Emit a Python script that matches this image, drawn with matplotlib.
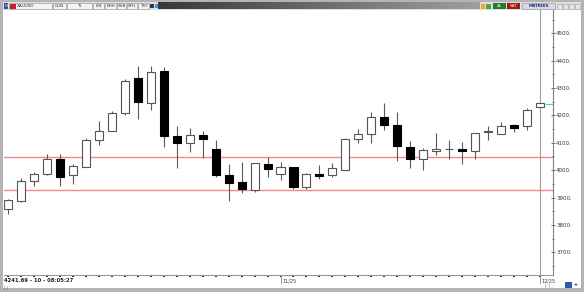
import numpy as np
import matplotlib.pyplot as plt
from matplotlib.patches import Rectangle

# daily candles
opens = [3858, 3887, 3960, 3985, 4042, 3981, 4013, 4110, 4144, 4210,
         4336, 4244, 4362, 4125, 4098, 4130, 4076, 3982, 3957, 3928,
         4023, 3986, 4011, 3937, 3985, 3981, 4000, 4113, 4132, 4195,
         4164, 4084, 4041, 4070, 4076, 4076, 4071, 4139, 4131, 4164,
         4161, 4231]
closes = [3891, 3960, 3985, 4042, 3976, 4016, 4110, 4143, 4210, 4325,
          4249, 4358, 4125, 4098, 4127, 4113, 3981, 3952, 3930, 4027,
          4003, 4011, 3937, 3985, 3979, 4007, 4113, 4131, 4195, 4165,
          4088, 4042, 4074, 4077, 4076, 4069, 4135, 4140, 4162, 4155,
          4220, 4244]
highs = [3895, 3971, 3993, 4059, 4058, 4023, 4118, 4180, 4217, 4333,
         4381, 4381, 4376, 4161, 4155, 4144, 4110, 4021, 4030, 4027,
         4047, 4031, 4012, 3991, 4019, 4027, 4116, 4149, 4214, 4244,
         4214, 4108, 4082, 4135, 4110, 4102, 4135, 4161, 4175, 4168,
         4228, 4244]
lows = [3840, 3885, 3942, 3984, 3943, 3950, 4012, 4092, 4143, 4202,
        4187, 4220, 4086, 4007, 4067, 4046, 3974, 3888, 3916, 3919,
        3974, 3964, 3930, 3930, 3967, 3976, 3999, 4100, 4100, 4147,
        4035, 4007, 4001, 4055, 4040, 4023, 4041, 4110, 4131, 4141,
        4147, 4231]

levels = [4049, 3928]
last_price = 4241.69
price_ticks = [3700, 3800, 3900, 4000, 4100, 4200, 4300, 4400, 4500]
date_idx = [21, 41]
date_labels = ["11/25", "12/25"]
status = "4241.69 - 10 - 08:05:27"

W, H = 584, 292
fig = plt.figure(figsize=(W / 100, H / 100), dpi=100)
fig.patch.set_facecolor('#b4b4b4')

# window frame drawn in pixel coords
fr = fig.add_axes([0, 0, 1, 1])
fr.set_xlim(0, W)
fr.set_ylim(H, 0)
fr.axis('off')

def box(x0, x1, y0, y1, fc, ec='none', lw=0.5, z=1):
    fr.add_patch(Rectangle((x0, y0), x1 - x0, y1 - y0, fc=fc, ec=ec, lw=lw,
                           zorder=z))

box(3, 581, 10, 288, 'white')
box(3, 581, 2, 10, '#dedede')
g = np.linspace(0.22, 0.62, 80)
grad = np.dstack([g, g, g])
fr.imshow(grad, aspect='auto', extent=(158, 480, 9.5, 2.5), zorder=2)
fr.set_xlim(0, W)
fr.set_ylim(H, 0)

box(3.5, 8, 3, 9, '#2d4f9e', z=3)
fr.text(5.7, 6, 'H', fontsize=3, color='white', ha='center', va='center')
tool = [(9, 52, ''), (53, 66, 'GUN'), (67, 92, 'TL'), (93, 104, 'LIN'),
        (105, 116, 'KHH'), (117, 126, 'SVB'), (127, 137, 'SYH'), (138, 149, 'THF')]
for x0, x1, t in tool:
    box(x0, x1, 3, 9, '#f4f4f4', '#8c8c8c', 0.4, z=3)
    if t:
        fr.text((x0 + x1) / 2, 6.2, t, fontsize=3, color='#333333',
                ha='center', va='center')
box(10, 16, 3.5, 8.5, '#c02030', z=4)
fr.text(17, 6.2, 'XAUUSD', fontsize=3, color='#333333', va='center')
box(150, 154, 4, 8, '#303050', z=3)
box(155, 158, 4, 8, '#3a9ad8', z=3)
box(481, 485, 3.5, 8.5, '#e8b020', z=3)
box(486, 491, 3.5, 8.5, '#50a050', z=3)
box(493, 506, 3, 9, '#1f7a2a', z=3)
fr.text(499.5, 6.2, 'AL', fontsize=3, color='white', ha='center', va='center')
box(507, 520, 3, 9, '#a01818', z=3)
fr.text(513.5, 6.2, 'SAT', fontsize=3, color='white', ha='center', va='center')
box(522, 555, 3, 9, '#d8d8e4', '#9090a0', 0.4, z=3)
fr.text(538.5, 6.2, 'MATRIKS', fontsize=3, color='#202a80', ha='center',
        va='center', weight='bold')
for x0 in [557, 563, 569, 575]:
    box(x0, x0 + 5, 3.5, 8.5, '#e6e6e6', '#a0a0a0', 0.4, z=3)
box(565, 572, 282, 288, '#2a5cb0', z=3)
fr.text(576.5, 285, '◂▸', fontsize=3.5, color='#2a5cb0', ha='center', va='center')

# chart area
ax = fig.add_axes([4 / W, 1 - 275 / H, (553 - 4) / W, (275 - 10) / H])
ax.set_facecolor('white')
x = np.arange(len(opens))
o = np.array(opens, float)
c = np.array(closes, float)
up = c >= o

ax.vlines(x, lows, highs, color='#5a5a5a', lw=0.8, zorder=2)
bottom = np.minimum(o, c)
height = np.maximum(np.abs(c - o), 2.5)
ax.bar(x[up], height[up], bottom=bottom[up], width=0.62, color='white',
       edgecolor='#555555', lw=0.8, zorder=3)
ax.bar(x[~up], height[~up], bottom=bottom[~up], width=0.62, color='black',
       edgecolor='black', lw=0.8, zorder=3)

for lv in levels:
    ax.axhline(lv, color='#f08a8a', lw=1, zorder=1)
ax.axvline(41, color='#a0a0a0', lw=0.8, zorder=1)
ax.hlines(last_price, 41.4, 42.0, color='#40d8e0', lw=0.8, zorder=4)

ax.set_xlim(-0.31, 42.0)
ax.set_ylim(3617, 4585)

for s in ['left', 'top']:
    ax.spines[s].set_visible(False)
ax.spines['right'].set_color('#808080')
ax.spines['bottom'].set_color('#9a9a9a')
ax.spines['right'].set_linewidth(0.8)
ax.spines['bottom'].set_linewidth(0.8)

ax.yaxis.tick_right()
ax.set_yticks(price_ticks)
ax.set_yticklabels([f'{p}.' for p in price_ticks])
ax.set_yticks(np.arange(3650, 4600, 50), minor=True)
ax.tick_params(axis='y', which='both', direction='inout', length=2.5,
               width=0.6, color='#555555', labelsize=4, pad=1,
               labelcolor='#333333')
ax.tick_params(axis='y', which='minor', length=1.5)

ax.set_xticks(x)
ax.set_xticklabels([])
ax.tick_params(axis='x', direction='out', length=1.5, width=1.2, color='black')

tr = ax.get_xaxis_transform()
for i, lab in zip(date_idx, date_labels):
    ax.plot([i, i], [0, -0.03], color='#808080', lw=0.6, transform=tr,
            clip_on=False)
    ax.text(i + 0.12, -0.012, lab, transform=tr, fontsize=3.5, color='#333333',
            ha='left', va='top')
ax.text(41.35, -0.033, '[...]', transform=tr, fontsize=2.5, color='#555555',
        ha='left', va='top')
ax.text(0.0, -0.012, status, transform=ax.transAxes, fontsize=3.8,
        color='#222222', ha='left', va='top', weight='bold',
        bbox=dict(fc='white', ec='none', pad=0.8))
ax.text(0.0, -0.038, '[..]', transform=ax.transAxes, fontsize=2.5,
        color='#555555', ha='left', va='top')

fig.savefig('out.png', dpi=100, facecolor=fig.get_facecolor())
